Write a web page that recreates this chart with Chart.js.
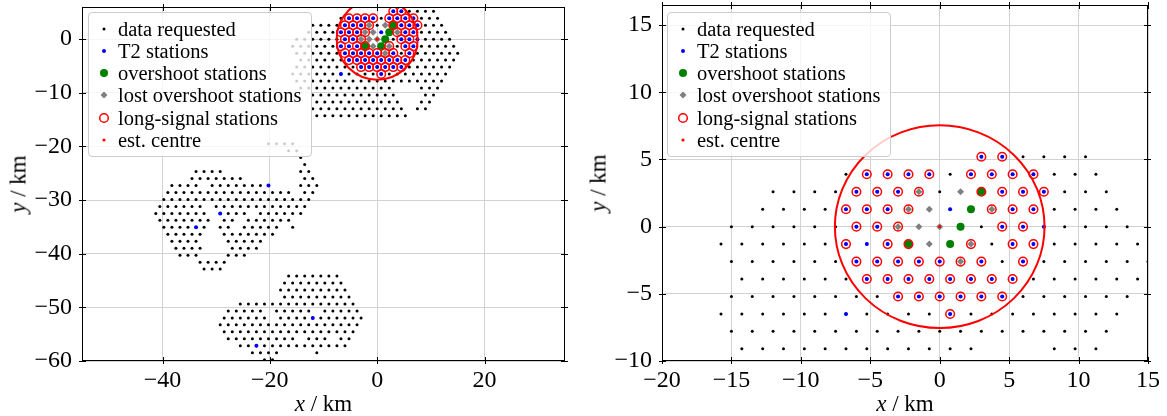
<!DOCTYPE html>
<html>
<head>
<meta charset="utf-8">
<script src="https://cdn.jsdelivr.net/npm/chart.js@4.4.1/dist/chart.umd.min.js"></script>
<style>
html,body{margin:0;padding:0;background:#fff;}
body{width:1167px;height:416px;position:relative;overflow:hidden;font-family:"Liberation Serif",serif;color:#000;}
canvas{position:absolute;top:0;}
#c1{left:0;}
#c2{left:590px;}
.axl{position:absolute;font-size:23px;line-height:1;white-space:nowrap;transform:translate(-50%,-50%);}
.axl.rot{transform:translate(-50%,-50%) rotate(-90deg);}
.legend{position:absolute;top:12px;width:222px;height:143px;border:1px solid #cccccc;border-radius:4px;background:rgba(255,255,255,0.8);}
.li{position:absolute;left:0;width:222px;height:22px;}
.li svg{position:absolute;left:5px;top:0;}
.li span{position:absolute;left:29px;top:11px;transform:translateY(-50%);font-size:20.5px;line-height:1;white-space:nowrap;}
</style>
</head>
<body>
<canvas id="c1" width="590" height="416"></canvas>
<canvas id="c2" width="577" height="416"></canvas>
<div class="axl" style="left:323.5px;top:403px;"><i>x</i> / km</div>
<div class="axl" style="left:905px;top:403px;"><i>x</i> / km</div>
<div class="axl rot" style="left:17.5px;top:184px;"><i>y</i> / km</div>
<div class="axl rot" style="left:597.5px;top:183px;"><i>y</i> / km</div>
<div class="legend" id="lg1" style="left:88px;"></div>
<div class="legend" id="lg2" style="left:667px;"></div>
<script>
// ---------------- data (km) ----------------
// stations with data requested: [y, [x values]]
const requestedRows = [
  [5.20, [3, 4.5, 6, 7.5, 9, 10.5]],
  [3.90, [-6.75, -5.25, -3.75, -2.25, -0.75, 0.75, 2.25, 3.75, 5.25, 6.75, 8.25, 9.75, 11.25]],
  [2.60, [-12, -10.5, -9, -7.5, -6, -4.5, -3, -1.5, 0, 1.5, 3, 4.5, 6, 7.5, 9, 10.5, 12]],
  [1.30, [-12.75, -11.25, -9.75, -8.25, -6.75, -5.25, -3.75, -2.25, -0.75, 0.75, 2.25, 3.75, 5.25, 6.75, 8.25, 9.75, 11.25, 12.75]],
  [0.00, [-15, -13.5, -12, -10.5, -9, -7.5, -6, -4.5, -3, -1.5, 0, 1.5, 3, 4.5, 6, 7.5, 9, 10.5, 12, 13.5]],
  [-1.30, [-15.75, -14.25, -12.75, -11.25, -9.75, -8.25, -6.75, -5.25, -3.75, -2.25, -0.75, 0.75, 2.25, 3.75, 5.25, 6.75, 8.25, 9.75, 11.25, 12.75, 14.25]],
  [-2.60, [-15, -13.5, -12, -10.5, -9, -7.5, -6, -4.5, -3, -1.5, 0, 1.5, 3, 4.5, 6, 7.5, 9, 10.5, 12, 13.5, 15]],
  [-3.90, [-14.25, -12.75, -11.25, -9.75, -8.25, -6.75, -5.25, -3.75, -2.25, -0.75, 0.75, 2.25, 3.75, 5.25, 6.75, 8.25, 9.75, 11.25, 12.75, 14.25]],
  [-5.20, [-15, -13.5, -12, -10.5, -9, -7.5, -6, -4.5, -3, -1.5, 0, 1.5, 3, 4.5, 6, 7.5, 9, 10.5, 12, 13.5]],
  [-6.50, [-15.75, -14.25, -12.75, -11.25, -9.75, -8.25, -6.75, -5.25, -3.75, -2.25, -0.75, 0.75, 2.25, 3.75, 5.25, 6.75, 8.25, 9.75, 11.25, 12.75]],
  [-7.79, [-15, -13.5, -12, -10.5, -9, -7.5, -6, -4.5, -3, -1.5, 0, 1.5, 3, 4.5, 6, 7.5, 9, 10.5, 12]],
  [-9.09, [-14.25, -12.75, -11.25, -9.75, -8.25, -6.75, -5.25, -3.75, -2.25, -0.75, 0.75, 2.25, 8.25, 9.75, 11.25]],
  [-10.39, [-12, -10.5, -9, -7.5, -6, -4.5, -3, -1.5, 0, 1.5, 3, 9, 10.5]],
  [-11.69, [-11.25, -9.75, -8.25, -6.75, -5.25, -3.75, -2.25, -0.75, 0.75, 2.25, 3.75, 8.25, 9.75]],
  [-12.99, [-12, -10.5, -9, -7.5, -6, -4.5, -3, -1.5, 0, 1.5, 3, 4.5, 7.5, 9]],
  [-14.29, [-11.25, -9.75, -8.25, -6.75, -5.25, -3.75, -2.25, -0.75, 0.75, 2.25, 3.75, 5.25]],
  [-19.49, [-20.25, -18.75, -17.25, -15.75]],
  [-20.78, [-16.5, -15]],
  [-22.08, [-14.25]],
  [-23.38, [-13.5]],
  [-24.68, [-33.75, -32.25, -30.75, -29.25, -14.25, -12.75]],
  [-25.98, [-34.5, -33, -31.5, -30, -28.5, -27, -25.5, -13.5, -12]],
  [-27.28, [-38.25, -36.75, -35.25, -33.75, -30.75, -29.25, -27.75, -26.25, -24.75, -23.25, -21.75, -20.25, -14.25, -12.75, -11.25]],
  [-28.58, [-39, -37.5, -36, -34.5, -33, -31.5, -30, -28.5, -27, -25.5, -24, -22.5, -21, -19.5, -18, -16.5, -13.5, -12]],
  [-29.88, [-39.75, -38.25, -36.75, -35.25, -33.75, -32.25, -30.75, -29.25, -27.75, -26.25, -24.75, -23.25, -21.75, -20.25, -18.75, -17.25, -15.75, -14.25, -12.75]],
  [-31.18, [-40.5, -39, -37.5, -36, -34.5, -33, -30, -28.5, -27, -25.5, -24, -22.5, -21, -19.5, -18, -16.5, -15, -13.5]],
  [-32.48, [-41.25, -39.75, -38.25, -36.75, -35.25, -33.75, -32.25, -29.25, -27.75, -26.25, -24.75, -21.75, -20.25, -18.75, -17.25, -15.75, -14.25]],
  [-33.77, [-40.5, -39, -37.5, -36, -34.5, -33, -31.5, -28.5, -27, -24, -22.5, -21, -19.5, -18, -16.5]],
  [-35.07, [-39.75, -38.25, -36.75, -35.25, -33.75, -32.25, -29.25, -27.75, -24.75, -23.25, -21.75, -20.25, -18.75, -15.75]],
  [-36.37, [-39, -37.5, -36, -34.5, -33, -28.5, -27, -25.5, -24, -22.5, -21, -19.5]],
  [-37.67, [-38.25, -36.75, -35.25, -33.75, -27.75, -26.25, -24.75, -23.25, -21.75]],
  [-38.97, [-37.5, -36, -34.5, -33, -27, -25.5, -24, -22.5]],
  [-40.27, [-36.75, -35.25, -33.75, -27.75, -26.25, -24.75]],
  [-41.57, [-33, -31.5, -30, -28.5]],
  [-42.87, [-32.25, -30.75, -29.25]],
  [-44.17, [-16.5, -15, -13.5, -12, -10.5, -9, -7.5]],
  [-45.47, [-17.25, -15.75, -14.25, -12.75, -11.25, -9.75, -8.25, -6.75]],
  [-46.76, [-18, -16.5, -15, -13.5, -12, -10.5, -9, -7.5, -6]],
  [-48.06, [-17.25, -15.75, -14.25, -12.75, -11.25, -9.75, -8.25, -6.75, -5.25]],
  [-49.36, [-25.5, -24, -22.5, -21, -19.5, -18, -16.5, -15, -13.5, -12, -10.5, -9, -7.5, -6, -4.5]],
  [-50.66, [-27.75, -26.25, -24.75, -23.25, -21.75, -18.75, -17.25, -15.75, -14.25, -12.75, -9.75, -8.25, -6.75, -5.25, -3.75]],
  [-51.96, [-28.5, -27, -25.5, -24, -22.5, -21, -18, -16.5, -15, -13.5, -12, -10.5, -9, -7.5, -6, -4.5, -3]],
  [-53.26, [-29.25, -27.75, -26.25, -24.75, -23.25, -21.75, -20.25, -18.75, -17.25, -15.75, -14.25, -12.75, -11.25, -9.75, -8.25, -6.75, -5.25, -3.75]],
  [-54.56, [-28.5, -27, -25.5, -24, -22.5, -21, -19.5, -18, -16.5, -15, -13.5, -12, -10.5, -9, -7.5, -6, -4.5]],
  [-55.86, [-27.75, -26.25, -24.75, -23.25, -21.75, -20.25, -18.75, -17.25, -15.75, -12.75, -11.25, -9.75, -6.75, -5.25]],
  [-57.16, [-25.5, -24, -22.5, -21, -19.5, -18, -16.5, -15, -13.5, -12, -10.5, -9, -7.5, -6]],
  [-58.46, [-23.25, -21.75, -20.25, -18.75, -11.25]],
  [-59.75, [-21, -19.5]]
];
// T2 stations (blue): [y, [x values]]
const t2Rows = [
  [5.20, [3, 4.5]],
  [3.90, [-5.25, -3.75, -2.25, -0.75, 2.25, 3.75, 5.25, 6.75]],
  [2.60, [-6, -4.5, -3, 4.5, 6, 7.5]],
  [1.30, [-6.75, -5.25, -3.75, 0.75, 5.25, 6.75]],
  [0.00, [-6, -4.5, 4.5, 6, 7.5]],
  [-1.30, [-6.75, -5.25, -3.75, 5.25, 6.75]],
  [-2.60, [-6, -4.5, -3, -1.5, 0, 3, 6]],
  [-3.90, [-5.25, -3.75, -2.25, -0.75, 0.75, 2.25, 3.75, 5.25]],
  [-5.20, [-3, -1.5, 0, 1.5, 3, 4.5]],
  [-6.50, [-6.75, 0.75]],
  [-27.28, [-20.25]],
  [-32.48, [-29.25]],
  [-35.07, [-33.75]],
  [-51.96, [-12]],
  [-57.16, [-22.5]]
];
// overshoot stations: [x, y]
const overshootStations = [[3, 2.60], [2.25, 1.30], [1.5, 0.00], [-2.25, -1.30], [0.75, -1.30]];
// lost overshoot stations: [x, y]
const lostOvershootStations = [[-1.5, 2.60], [1.5, 2.60], [-2.25, 1.30], [-0.75, 1.30], [3.75, 1.30],
  [-3, 0.00], [-1.5, 0.00], [0, 0.00], [-0.75, -1.30], [2.25, -1.30], [1.5, -2.60]];
// long-signal stations: [y, [x values]]
const longSignalRows = [
  [5.20, [3, 4.5]],
  [3.90, [-5.25, -3.75, -2.25, -0.75, 2.25, 3.75, 5.25, 6.75]],
  [2.60, [-6, -4.5, -3, -1.5, 3, 4.5, 6, 7.5]],
  [1.30, [-6.75, -5.25, -3.75, -2.25, 3.75, 5.25, 6.75]],
  [0.00, [-6, -4.5, -3, 4.5, 6]],
  [-1.30, [-6.75, -3.75, -2.25, 2.25, 5.25, 6.75]],
  [-2.60, [-6, -4.5, -3, -1.5, 0, 1.5, 3, 6]],
  [-3.90, [-5.25, -3.75, -2.25, -0.75, 0.75, 2.25, 3.75, 5.25]],
  [-5.20, [-3, -1.5, 0, 1.5, 3, 4.5]],
  [-6.50, [0.75]]
];
// estimated centre [x, y] and radius of the drawn circle (km)
const estCentre = [0, 0];
const circleRadius = 7.55;
const legendLabels = ['data requested', 'T2 stations', 'overshoot stations', 'lost overshoot stations', 'long-signal stations', 'est. centre'];
// axis ranges and tick steps: [min, max, step]
const leftXAxis = [-55, 35, 20];
const leftYAxis = [-60, 6, 10];
const rightXAxis = [-20, 15, 5];
const rightYAxis = [-10, 16.5, 5];

// ---------------- helpers ----------------
function rowsToPoints(rows) {
  const pts = [];
  rows.forEach(([y, xs]) => xs.forEach(x => pts.push({x: x, y: y})));
  return pts;
}
function pairsToPoints(pairs) { return pairs.map(([x, y]) => ({x: x, y: y})); }
const fmt = v => String(v).replace('-', '\u2212');

const framePlugin = {
  id: 'frame',
  afterDatasetsDraw(chart) {
    const {ctx, chartArea: a, scales} = chart;
    const xs = scales.x, ys = scales.y;
    ctx.save();
    ctx.beginPath();
    ctx.rect(a.left, a.top, a.right - a.left, a.bottom - a.top);
    ctx.clip();
    const cx = xs.getPixelForValue(estCentre[0]);
    const cy = ys.getPixelForValue(estCentre[1]);
    const rx = Math.abs(xs.getPixelForValue(estCentre[0] + circleRadius) - cx);
    const ry = Math.abs(ys.getPixelForValue(estCentre[1] + circleRadius) - cy);
    ctx.beginPath();
    ctx.ellipse(cx, cy, rx, ry, 0, 0, Math.PI * 2);
    ctx.strokeStyle = '#ff0000';
    ctx.lineWidth = 2;
    ctx.stroke();
    ctx.restore();
  },
  afterDraw(chart) {
    const {ctx, chartArea: a, scales} = chart;
    ctx.save();
    ctx.strokeStyle = '#000';
    ctx.lineWidth = 1;
    const L = Math.round(a.left) + 0.5, R = Math.round(a.right) - 0.5;
    const T = Math.round(a.top) + 0.5, B = Math.round(a.bottom) - 0.5;
    ctx.strokeRect(L, T, R - L, B - T);
    ctx.beginPath();
    scales.x.ticks.forEach(t => {
      const p = Math.round(scales.x.getPixelForValue(t.value)) + 0.5;
      ctx.moveTo(p, B - 3.5); ctx.lineTo(p, B + 3.5);
      ctx.moveTo(p, T - 3.5); ctx.lineTo(p, T + 3.5);
    });
    scales.y.ticks.forEach(t => {
      const p = Math.round(scales.y.getPixelForValue(t.value)) + 0.5;
      ctx.moveTo(L - 3.5, p); ctx.lineTo(L + 3.5, p);
      ctx.moveTo(R - 3.5, p); ctx.lineTo(R + 3.5, p);
    });
    ctx.stroke();
    ctx.restore();
  }
};

function makeDatasets() {
  const base = {clip: 0, pointHoverRadius: 0};
  return [
    Object.assign({label: legendLabels[5], data: pairsToPoints([estCentre]), pointRadius: 1.6,
      pointBackgroundColor: '#ff0000', pointBorderWidth: 0, order: 1}, base),
    Object.assign({label: legendLabels[4], data: rowsToPoints(longSignalRows), pointRadius: 4.3,
      pointBackgroundColor: 'rgba(0,0,0,0)', pointBorderColor: '#ff0000', pointBorderWidth: 1.5, order: 2}, base),
    Object.assign({label: legendLabels[3], data: pairsToPoints(lostOvershootStations), pointStyle: 'rectRot', pointRadius: 3.5,
      pointBackgroundColor: '#808080', pointBorderWidth: 0, order: 3}, base),
    Object.assign({label: legendLabels[2], data: pairsToPoints(overshootStations), pointRadius: 4,
      pointBackgroundColor: '#008000', pointBorderWidth: 0, order: 4}, base),
    Object.assign({label: legendLabels[1], data: rowsToPoints(t2Rows), pointRadius: 2,
      pointBackgroundColor: '#0000ff', pointBorderWidth: 0, order: 5}, base),
    Object.assign({label: legendLabels[0], data: rowsToPoints(requestedRows), pointRadius: 1.5,
      pointBackgroundColor: '#000000', pointBorderWidth: 0, order: 6}, base)
  ];
}

function makeChart(id, xAxis, yAxis, yWidth, pad) {
  const tickFont = {family: 'Liberation Serif', size: 24};
  return new Chart(document.getElementById(id), {
    type: 'scatter',
    data: {datasets: makeDatasets()},
    options: {
      responsive: false, animation: false, devicePixelRatio: 1, events: [],
      layout: {autoPadding: false, padding: pad},
      plugins: {legend: {display: false}, tooltip: {enabled: false}},
      scales: {
        x: {
          type: 'linear', min: xAxis[0], max: xAxis[1],
          ticks: {stepSize: xAxis[2], includeBounds: false, font: tickFont, color: '#000', padding: 5,
            maxRotation: 0, autoSkip: false, callback: fmt},
          grid: {color: '#d3d3d3', lineWidth: 1, drawTicks: false},
          border: {display: false},
          afterFit(s) { s.height = 55; s.paddingLeft = 0; s.paddingRight = 0; }
        },
        y: {
          type: 'linear', min: yAxis[0], max: yAxis[1],
          ticks: {stepSize: yAxis[2], includeBounds: false, font: tickFont, color: '#000', padding: 10,
            autoSkip: false, callback: fmt},
          grid: {color: '#d3d3d3', lineWidth: 1, drawTicks: false},
          border: {display: false},
          afterFit(s) { s.width = yWidth; s.paddingTop = 0; s.paddingBottom = 0; }
        }
      }
    },
    plugins: [framePlugin]
  });
}

makeChart('c1', leftXAxis, leftYAxis, 82, {top: 7, right: 25, bottom: 0, left: 0});
makeChart('c2', rightXAxis, rightYAxis, 72, {top: 5, right: 19, bottom: 0, left: 0});

// ---------------- legends (HTML, semi-transparent like the original) ----------------
const markerSvgs = [
  '<circle cx="10" cy="11" r="1.5" fill="#000"/>',
  '<circle cx="10" cy="11" r="2" fill="#0000ff"/>',
  '<circle cx="10" cy="11" r="4" fill="#008000"/>',
  '<polygon points="6.5,11 10,7.5 13.5,11 10,14.5" fill="#808080"/>',
  '<circle cx="10" cy="11" r="4.3" fill="none" stroke="#ff0000" stroke-width="1.5"/>',
  '<circle cx="10" cy="11" r="1.6" fill="#ff0000"/>'
];
const rowTops = [5, 27, 49, 71, 93.5, 116];
['lg1', 'lg2'].forEach(id => {
  const box = document.getElementById(id);
  legendLabels.forEach((lab, i) => {
    const d = document.createElement('div');
    d.className = 'li';
    d.style.top = rowTops[i] + 'px';
    d.innerHTML = '<svg width="20" height="22" viewBox="0 0 20 22">' + markerSvgs[i] + '</svg>';
    const s = document.createElement('span');
    s.textContent = lab;
    d.appendChild(s);
    box.appendChild(d);
  });
});
</script>
</body>
</html>
